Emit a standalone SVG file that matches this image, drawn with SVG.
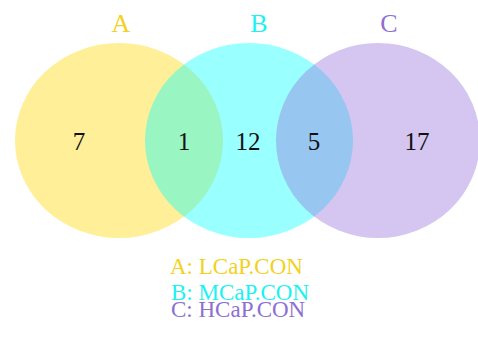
<svg xmlns="http://www.w3.org/2000/svg" width="478" height="338" viewBox="0 0 478 338">
  <style>
    .set { fill-opacity: 0.4; stroke: none; }
    .title { font-family: "Liberation Serif", "Times New Roman", serif; font-size: 26px; text-anchor: middle; }
    .count { font-family: "Liberation Serif", "Times New Roman", serif; font-size: 25px; text-anchor: middle; fill: #111; }
    .legend { font-family: "Liberation Serif", "Times New Roman", serif; font-size: 23px; }
    .a { fill: #FFD700; }
    .b { fill: #00FFFF; }
    .c { fill: #9370DB; }
    .ta { fill: #F3D11F; }
    .tb { fill: #1CF2F0; }
    .tc { fill: #8E6FD2; }
  </style>
  <rect width="478" height="338" fill="#ffffff"/>

  <!-- sets -->
  <g id="set-A">
    <ellipse class="set a" cx="119" cy="140.5" rx="104" ry="97.5"/>
    <text class="title ta" x="121" y="32">A</text>
  </g>
  <g id="set-B">
    <ellipse class="set b" cx="249" cy="140.5" rx="104" ry="97.5"/>
    <text class="title tb" x="259" y="32">B</text>
  </g>
  <g id="set-C">
    <ellipse class="set c" cx="378" cy="140.5" rx="102" ry="97.5"/>
    <text class="title tc" x="389" y="32">C</text>
  </g>

  <!-- region counts -->
  <g id="counts">
    <text class="count" x="79" y="150">7</text>
    <text class="count" x="184" y="150">1</text>
    <text class="count" x="248" y="150">12</text>
    <text class="count" x="314" y="150">5</text>
    <text class="count" x="417" y="150">17</text>
  </g>

  <!-- legend -->
  <g id="legend">
    <text class="legend ta" x="170" y="274">A: LCaP.CON</text>
    <text class="legend tb" x="171" y="300">B: MCaP.CON</text>
    <text class="legend tc" x="171" y="317">C: HCaP.CON</text>
  </g>

  <g id="connectors"/>
</svg>
